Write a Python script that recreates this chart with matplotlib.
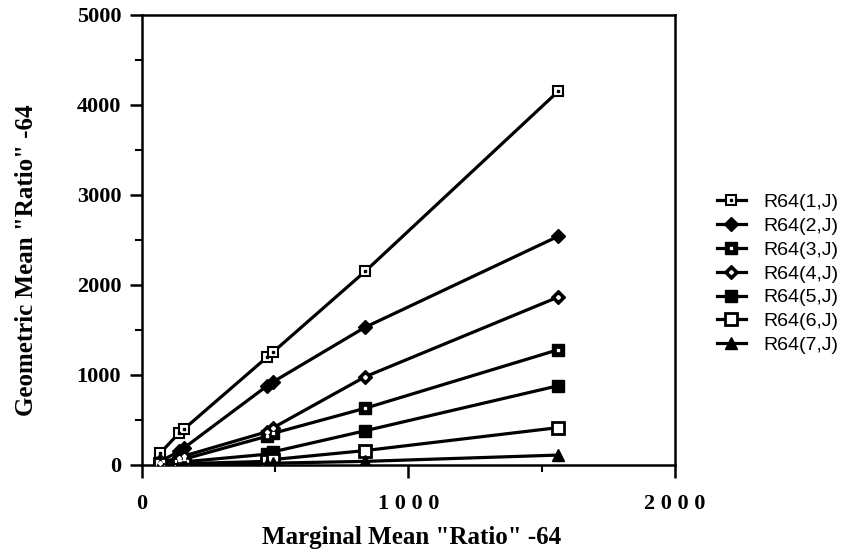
import numpy as np
import matplotlib
matplotlib.use("Agg")
import matplotlib.pyplot as plt
from matplotlib.ticker import MultipleLocator
from matplotlib.legend_handler import HandlerTuple

# marginal mean "ratio" (same for every series)
marginal = [68, 139, 158, 470, 490, 837, 1561]

# geometric mean "ratio" for each series
r1 = [130, 355, 400, 1200, 1250, 2150, 4150]
r2 = [40, 150, 190, 880, 920, 1530, 2540]
r3 = [20, 55, 65, 320, 350, 630, 1280]
r4 = [25, 80, 100, 370, 410, 980, 1865]
r5 = [12, 30, 35, 120, 145, 380, 880]
r6 = [6, 12, 15, 40, 60, 160, 415]
r7 = [2, 5, 6, 10, 20, 40, 110]

labels = ["R64(1,J)", "R64(2,J)", "R64(3,J)", "R64(4,J)",
          "R64(5,J)", "R64(6,J)", "R64(7,J)"]

fig = plt.figure(figsize=(8.42, 5.55), dpi=100)
ax = fig.add_axes([0.1686, 0.1622, 0.8017 - 0.1686, 0.973 - 0.1622])

lw = 2.3
handles = []

# R64(1,J): open square with a dot
a, = ax.plot(marginal, r1, color="black", lw=lw, marker="s", ms=7,
             mfc="white", mec="black", mew=1.5, zorder=3)
b, = ax.plot(marginal, r1, ls="none", marker="s", ms=2, color="black", zorder=4)
handles.append((a, b))

# R64(2,J): filled diamond
a, = ax.plot(marginal, r2, color="black", lw=lw, marker="D", ms=7,
             mfc="black", mec="black", zorder=3)
handles.append(a)

# R64(3,J): filled square with white dot
a, = ax.plot(marginal, r3, color="black", lw=lw, marker="s", ms=8,
             mfc="black", mec="black", zorder=3)
b, = ax.plot(marginal, r3, ls="none", marker="s", ms=2, color="white", zorder=4)
handles.append((a, b))

# R64(4,J): diamond with white dot
a, = ax.plot(marginal, r4, color="black", lw=lw, marker="D", ms=7,
             mfc="black", mec="black", zorder=3)
b, = ax.plot(marginal, r4, ls="none", marker="D", ms=2, color="white", zorder=4)
handles.append((a, b))

# R64(5,J): filled square
a, = ax.plot(marginal, r5, color="black", lw=lw, marker="s", ms=8,
             mfc="black", mec="black", zorder=3)
handles.append(a)

# R64(6,J): open square
a, = ax.plot(marginal, r6, color="black", lw=lw, marker="s", ms=8,
             mfc="white", mec="black", mew=2, zorder=3)
handles.append(a)

# R64(7,J): filled triangle
a, = ax.plot(marginal, r7, color="black", lw=lw, marker="^", ms=9,
             mfc="black", mec="black", zorder=3)
handles.append(a)

ax.set_xlim(0, 2000)
ax.set_ylim(0, 5000)
ax.xaxis.set_major_locator(MultipleLocator(1000))
ax.xaxis.set_minor_locator(MultipleLocator(500))
ax.yaxis.set_major_locator(MultipleLocator(1000))
ax.yaxis.set_minor_locator(MultipleLocator(500))
ax.tick_params(which="major", direction="out", length=9, width=1.8)
ax.tick_params(axis="y", which="major", pad=6)
ax.tick_params(axis="x", which="major", pad=12)
ax.tick_params(which="minor", direction="out", length=5, width=1.5)
for s in ax.spines.values():
    s.set_linewidth(1.8)

serif = {"family": "Liberation Serif", "weight": "bold"}
for t in ax.get_yticklabels():
    t.set_fontfamily("Liberation Serif")
    t.set_fontweight("bold")
    t.set_fontsize(16)
ax.set_xticks([0, 1000, 2000])
ax.set_xticklabels(["0", "1 0 0 0", "2 0 0 0"], fontdict=serif, fontsize=16)

ax.set_xlabel('Marginal Mean "Ratio" -64', fontdict=serif, fontsize=18)
ax.xaxis.label.set_va("center")
ax.xaxis.set_label_coords(0.505, -0.162)
ax.set_ylabel('Geometric Mean "Ratio" -64', fontdict=serif, fontsize=18)
ax.yaxis.label.set_va("center")
ax.yaxis.set_label_coords(-0.217, 0.456)

leg = ax.legend(handles, labels, handler_map={tuple: HandlerTuple(ndivide=1)},
                loc="center left", bbox_to_anchor=(1.078, 0.425), frameon=False,
                prop={"family": "Liberation Sans", "size": 14},
                handlelength=1.5, labelspacing=0.32, handletextpad=0.9,
                borderpad=0, borderaxespad=0)

fig.savefig("out.png", dpi=100)
